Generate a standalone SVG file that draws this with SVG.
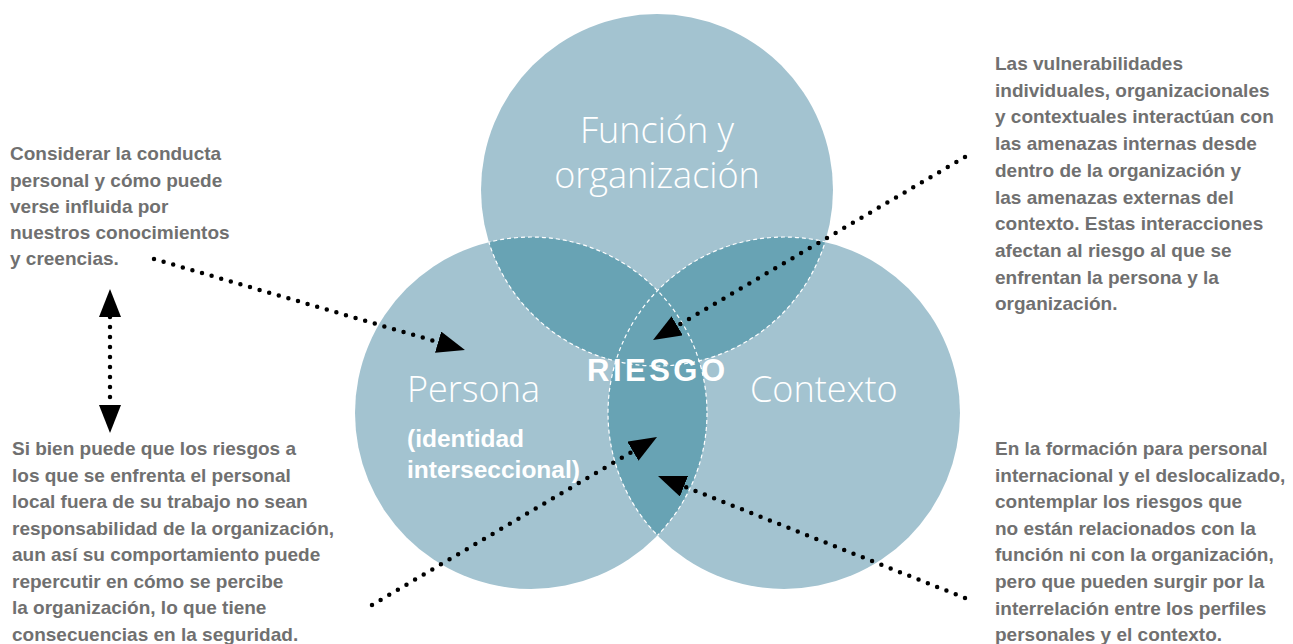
<svg xmlns="http://www.w3.org/2000/svg" width="1293" height="644" viewBox="0 0 1293 644">
<style>
.light{fill:#A3C3D0}
.dark{fill:#68A3B4}
.dash{fill:none;stroke:#ffffff;stroke-width:1.2;stroke-dasharray:4 3}
.lab{font-family:"Open Sans","Liberation Sans",sans-serif;font-weight:300;font-size:36px;fill:#ffffff}
.risk{font-family:"Liberation Sans",Arial,sans-serif;font-weight:bold;font-size:31px;fill:#ffffff;letter-spacing:3.5px}
.sub{font-family:"Liberation Sans",Arial,sans-serif;font-weight:bold;font-size:24.5px;fill:#ffffff}
.note{font-family:"Liberation Sans",Arial,sans-serif;font-weight:bold;font-size:19px;fill:#707070}
.dots{fill:none;stroke:#000000;stroke-width:4.5;stroke-linecap:round;stroke-dasharray:0 10}
</style>
<defs>
<marker id="ah" markerUnits="userSpaceOnUse" markerWidth="28" markerHeight="22" viewBox="0 0 28 22" refX="0" refY="11" orient="auto-start-reverse">
<path d="M0,0 L28,11 L0,22 z" fill="#000000"/>
</marker>
<clipPath id="cL"><circle cx="531" cy="413" r="176"/></clipPath>
<clipPath id="cR"><circle cx="784" cy="413" r="176"/></clipPath>
<clipPath id="cLR"><circle cx="531" cy="413" r="176"/><circle cx="784" cy="413" r="176"/></clipPath>
<clipPath id="cTR"><circle cx="657" cy="190" r="176"/><circle cx="784" cy="413" r="176"/></clipPath>
<clipPath id="cTL"><circle cx="657" cy="190" r="176"/><circle cx="531" cy="413" r="176"/></clipPath>
</defs>
<rect width="1293" height="644" fill="#ffffff"/>
<g id="venn">
<circle class="light" cx="657" cy="190" r="176"/>
<circle class="light" cx="531" cy="413" r="176"/>
<circle class="light" cx="784" cy="413" r="176"/>
<circle class="dark" cx="657" cy="190" r="176" clip-path="url(#cL)"/>
<circle class="dark" cx="657" cy="190" r="176" clip-path="url(#cR)"/>
<circle class="dark" cx="531" cy="413" r="176" clip-path="url(#cR)"/>
<circle class="dash" cx="657" cy="190" r="176" clip-path="url(#cLR)"/>
<circle class="dash" cx="531" cy="413" r="176" clip-path="url(#cTR)"/>
<circle class="dash" cx="784" cy="413" r="176" clip-path="url(#cTL)"/>
</g>
<g id="node-funcion">
<text class="lab" x="657" y="143" text-anchor="middle">Función y</text>
<text class="lab" x="657" y="188" text-anchor="middle">organización</text>
</g>
<g id="node-persona">
<text class="lab" x="407" y="402">Persona</text>
<text class="sub" x="407" y="447">(identidad</text>
<text class="sub" x="407" y="478">interseccional)</text>
</g>
<g id="node-contexto">
<text class="lab" x="750" y="402">Contexto</text>
</g>
<g id="node-riesgo">
<text class="risk" x="587" y="381">RIESGO</text>
</g>
<g id="note-top-left">
<text class="note" x="10" y="160">Considerar la conducta</text>
<text class="note" x="10" y="186.5">personal y cómo puede</text>
<text class="note" x="10" y="212.8">verse influida por</text>
<text class="note" x="10" y="239">nuestros conocimientos</text>
<text class="note" x="10" y="265.3">y creencias.</text>
</g>
<g id="note-bottom-left">
<text class="note" x="12" y="455">Si bien puede que los riesgos a</text>
<text class="note" x="12" y="481.5">los que se enfrenta el personal</text>
<text class="note" x="12" y="508">local fuera de su trabajo no sean</text>
<text class="note" x="12" y="534.5">responsabilidad de la organización,</text>
<text class="note" x="12" y="561">aun así su comportamiento puede</text>
<text class="note" x="12" y="587.5">repercutir en cómo se percibe</text>
<text class="note" x="12" y="614">la organización, lo que tiene</text>
<text class="note" x="12" y="640.5">consecuencias en la seguridad.</text>
</g>
<g id="note-top-right">
<text class="note" x="995" y="70">Las vulnerabilidades</text>
<text class="note" x="995" y="96.7">individuales, organizacionales</text>
<text class="note" x="995" y="123.4">y contextuales interactúan con</text>
<text class="note" x="995" y="150">las amenazas internas desde</text>
<text class="note" x="995" y="176.8">dentro de la organización y</text>
<text class="note" x="995" y="203.5">las amenazas externas del</text>
<text class="note" x="995" y="230.2">contexto. Estas interacciones</text>
<text class="note" x="995" y="257">afectan al riesgo al que se</text>
<text class="note" x="995" y="283.6">enfrentan la persona y la</text>
<text class="note" x="995" y="310.3">organización.</text>
</g>
<g id="note-bottom-right">
<text class="note" x="995" y="455">En la formación para personal</text>
<text class="note" x="995" y="481.6">internacional y el deslocalizado,</text>
<text class="note" x="995" y="508.2">contemplar los riesgos que</text>
<text class="note" x="995" y="534.8">no están relacionados con la</text>
<text class="note" x="995" y="561.4">función ni con la organización,</text>
<text class="note" x="995" y="588">pero que pueden surgir por la</text>
<text class="note" x="995" y="614.6">interrelación entre los perfiles</text>
<text class="note" x="995" y="641.2">personales y el contexto.</text>
</g>
<g id="connectors">
<path class="dots" d="M154,259 L438.1,342.1" marker-end="url(#ah)"/>
<path class="dots" d="M110,317 L110,405" marker-start="url(#ah)" marker-end="url(#ah)"/>
<path class="dots" d="M965,157 L677.2,325.8" marker-end="url(#ah)"/>
<path class="dots" d="M372,605 L632.9,451.2" marker-end="url(#ah)"/>
<path class="dots" d="M965,598 L684,486.3" marker-end="url(#ah)"/>
</g>
</svg>
